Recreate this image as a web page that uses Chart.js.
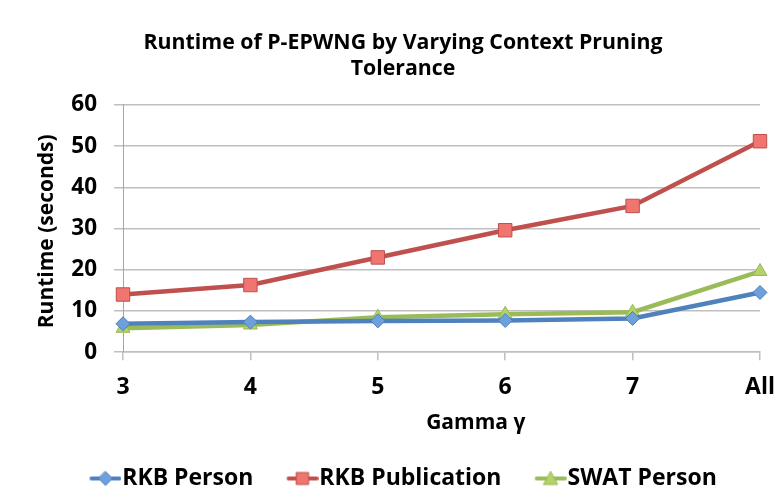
<!DOCTYPE html>
<html>
<head>
<meta charset="utf-8">
<script src="https://cdn.jsdelivr.net/npm/chart.js@4"></script>
<style>
html,body{margin:0;padding:0;background:#fff;}
#wrap{width:783px;height:502px;position:relative;}
</style>
</head>
<body>
<div id="wrap"><canvas id="c" width="783" height="502"></canvas></div>
<script>
const categories = ['3', '4', '5', '6', '7', 'All'];
const rkbPerson = [6.9, 7.3, 7.6, 7.7, 8.2, 14.5];
const rkbPublication = [14.0, 16.3, 23.0, 29.6, 35.5, 51.2];
const swatPerson = [5.8, 6.6, 8.5, 9.2, 9.7, 19.6];
const seriesNames = ['RKB Person', 'RKB Publication', 'SWAT Person'];
const titleLines = ['Runtime of P-EPWNG by Varying Context Pruning', 'Tolerance'];
const xAxisTitle = 'Gamma γ';
const yAxisTitle = 'Runtime (seconds)';
const yTickValues = [0, 10, 20, 30, 40, 50, 60];

const FONT = '"Open Sans", Lato, sans-serif';

// legend icon: line + marker occupying the right 32px of a 43px image
function legendIcon(kind, line, fill, border) {
  const cv = document.createElement('canvas');
  cv.width = 43; cv.height = 16;
  const ctx = cv.getContext('2d');
  const x0 = 11, x1 = 43, cx = 27;
  ctx.strokeStyle = line; ctx.lineWidth = 4; ctx.lineCap = 'round';
  ctx.beginPath(); ctx.moveTo(x0 + 2, 8); ctx.lineTo(x1 - 2, 8); ctx.stroke();
  ctx.fillStyle = fill; ctx.strokeStyle = border; ctx.lineWidth = 1;
  ctx.beginPath();
  if (kind === 'diamond') {
    ctx.moveTo(cx, 1); ctx.lineTo(cx + 7, 8); ctx.lineTo(cx, 15); ctx.lineTo(cx - 7, 8); ctx.closePath();
  } else if (kind === 'rect') {
    ctx.rect(cx - 6, 2, 12, 12);
  } else {
    ctx.moveTo(cx, 1); ctx.lineTo(cx + 7, 14); ctx.lineTo(cx - 7, 14); ctx.closePath();
  }
  ctx.fill(); ctx.stroke();
  return cv;
}

const styles = [
  {line: '#4f81bd', fill: '#6fa0de', border: '#4a7ebb', pt: 'rectRot', r: 7, icon: 'diamond'},
  {line: '#c0504d', fill: '#f07470', border: '#c0504d', pt: 'rect', r: 9.5, icon: 'rect'},
  {line: '#9bbb59', fill: '#b2d36a', border: '#98b954', pt: 'triangle', r: 8, icon: 'tri'}
];
const seriesData = [rkbPerson, rkbPublication, swatPerson];

const datasets = seriesData.map((d, i) => ({
  label: seriesNames[i],
  data: d,
  borderColor: styles[i].line,
  backgroundColor: styles[i].fill,
  borderWidth: 4.5,
  pointStyle: styles[i].pt,
  pointRadius: styles[i].r,
  pointHoverRadius: styles[i].r,
  pointBackgroundColor: styles[i].fill,
  pointBorderColor: styles[i].border,
  pointBorderWidth: 1,
  tension: 0,
  fill: false,
  legendIcon: legendIcon(styles[i].icon, styles[i].line, styles[i].fill, styles[i].border)
}));

new Chart(document.getElementById('c'), {
  type: 'line',
  data: {labels: categories, datasets: datasets},
  options: {
    responsive: false,
    animation: false,
    devicePixelRatio: 1,
    layout: {padding: {left: 24, right: 1, top: 17, bottom: 2}},
    plugins: {
      title: {
        display: true,
        text: titleLines,
        color: '#000',
        font: {family: FONT, size: 21.3, weight: 'bold', lineHeight: 1.22},
        padding: {top: 13, bottom: 23}
      },
      legend: {
        position: 'bottom',
        labels: {
          color: '#000',
          font: {family: FONT, size: 23, weight: 'bold'},
          usePointStyle: true,
          pointStyleWidth: 21.5,
          padding: 33,
          generateLabels: (chart) => chart.data.datasets.map((ds, i) => ({
            text: ds.label,
            pointStyle: ds.legendIcon,
            fillStyle: ds.backgroundColor,
            strokeStyle: ds.borderColor,
            lineWidth: 0,
            hidden: false,
            datasetIndex: i,
            fontColor: '#000'
          }))
        }
      },
      tooltip: {enabled: false}
    },
    scales: {
      x: {
        offset: false,
        afterFit: (s) => { s.paddingRight = 0; },
        grid: {display: true, drawOnChartArea: false, drawTicks: true, tickLength: 8, color: '#bfbfbf', lineWidth: 1.5},
        border: {display: true, color: '#bfbfbf', width: 1.5},
        ticks: {color: '#000', font: {family: FONT, size: 23, weight: 'bold'}, padding: 13, maxRotation: 0},
        title: {display: true, text: '\u2003\u2003\u2003 ' + xAxisTitle, color: '#000', font: {family: FONT, size: 21, weight: 'bold'}, padding: {top: -3, bottom: -2}}
      },
      y: {
        min: 0, max: 60,
        afterFit: (s) => { s.width = 99; },
        afterBuildTicks: (s) => { s.ticks = yTickValues.map(v => ({value: v})); },
        ticks: {color: '#000', font: {family: FONT, size: 22.5, weight: 'bold'}, padding: 17},
        grid: {color: '#bfbfbf', lineWidth: 1.5, tickLength: 9},
        border: {display: true, color: '#a6a6a6', width: 1},
        title: {display: true, text: yAxisTitle + ' ', color: '#000', font: {family: FONT, size: 21, weight: 'bold'}, padding: {top: 10, bottom: 0}}
      },
      y2: {
        position: 'right',
        display: true,
        afterFit: (s) => { s.width = 22; },
        grid: {display: false, drawTicks: false, drawBorder: false, color: 'rgba(0,0,0,0)'},
        border: {display: false, width: 0, color: 'rgba(0,0,0,0)'},
        ticks: {display: false}
      }
    }
  }
});
</script>
</body>
</html>
